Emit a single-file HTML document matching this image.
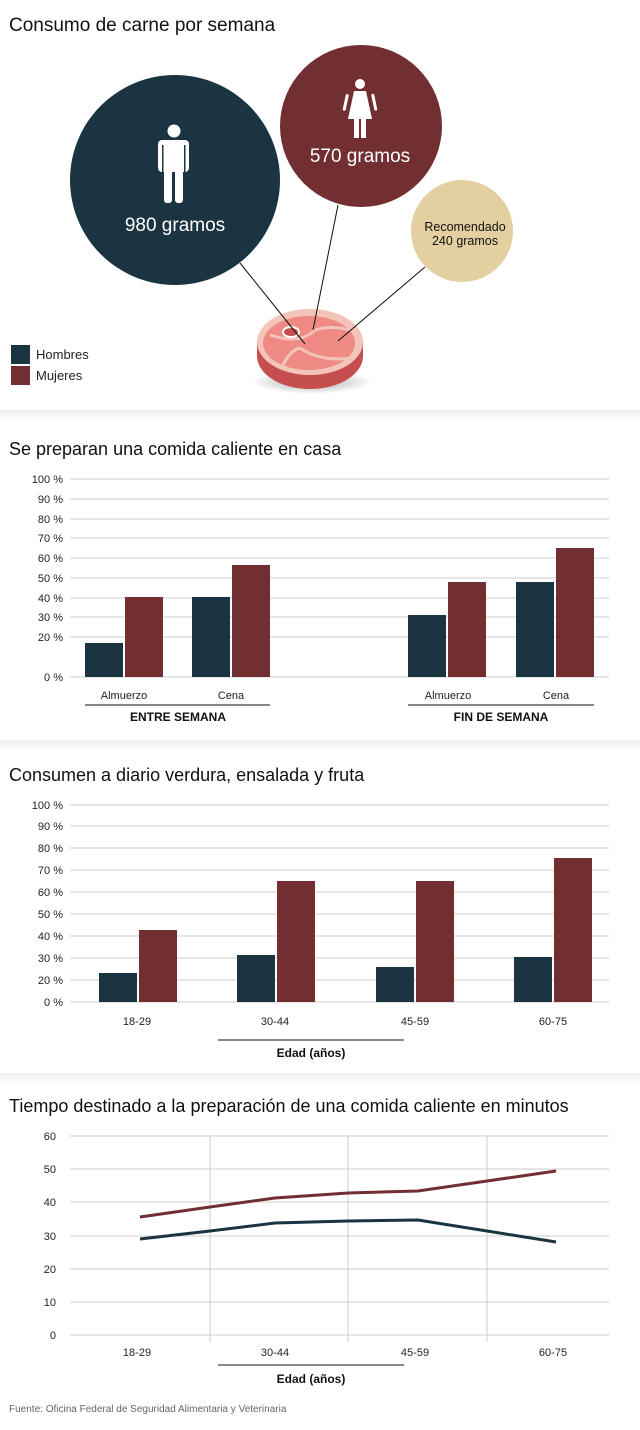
<!DOCTYPE html>
<html><head><meta charset="utf-8"><style>
body{margin:0;background:#fff;width:640px;height:1425px;overflow:hidden;font-family:"Liberation Sans",sans-serif}
</style></head><body>
<svg width="640" height="1425" xmlns="http://www.w3.org/2000/svg" font-family="Liberation Sans, sans-serif">
<defs>
<linearGradient id="sep" x1="0" y1="0" x2="0" y2="1"><stop offset="0" stop-color="#eeeeee"/><stop offset="1" stop-color="#ffffff"/></linearGradient>
<radialGradient id="sh"><stop offset="0" stop-color="#000" stop-opacity="0.35"/><stop offset="1" stop-color="#000" stop-opacity="0"/></radialGradient>
</defs>
<rect x="0" y="410" width="640" height="10" fill="url(#sep)"/>
<rect x="0" y="740" width="640" height="10" fill="url(#sep)"/>
<rect x="0" y="1073" width="640" height="10" fill="url(#sep)"/>

<text x="9" y="31" font-size="19" fill="#111">Consumo de carne por semana</text>
<circle cx="175" cy="180" r="105" fill="#1b3442"/>
<circle cx="361" cy="126" r="81" fill="#722f32"/>
<circle cx="462" cy="231" r="51" fill="#e4cfa0"/>
<g fill="#fff">
<circle cx="174" cy="131" r="6.5"/>
<rect x="158" y="140" width="31" height="32" rx="4"/>
<rect x="164" y="160" width="8" height="43" rx="3"/>
<rect x="175" y="160" width="8" height="43" rx="3"/>
</g>
<rect x="162" y="145" width="1.5" height="28" fill="#1b3442"/>
<rect x="184" y="145" width="1.5" height="28" fill="#1b3442"/>
<g fill="#fff">
<circle cx="360" cy="84" r="5"/>
<path d="M354 91 H366 L372 119 H348 Z"/>
<rect x="346" y="94" width="3" height="17" rx="1.5" transform="rotate(12 347 94)"/>
<rect x="371" y="94" width="3" height="17" rx="1.5" transform="rotate(-12 372 94)"/>
<rect x="354" y="118" width="5" height="20"/>
<rect x="361" y="118" width="5" height="20"/>
</g>
<text x="175" y="231" font-size="19" fill="#fff" text-anchor="middle">980 gramos</text>
<text x="360" y="162" font-size="19" fill="#fff" text-anchor="middle">570 gramos</text>
<text x="465" y="231" font-size="12.5" fill="#111" text-anchor="middle">Recomendado</text>
<text x="465" y="245" font-size="12.5" fill="#111" text-anchor="middle">240 gramos</text>
<ellipse cx="312" cy="382" rx="60" ry="12" fill="url(#sh)"/>
<ellipse cx="310" cy="356" rx="53" ry="33" fill="#c44f4e"/>
<rect x="257" y="340" width="106" height="16" fill="#c44f4e"/>
<ellipse cx="310" cy="342" rx="53" ry="33" fill="#f2c4ba"/>
<ellipse cx="309" cy="343" rx="46" ry="27" fill="#ef8a84"/>
<path d="M270 335 Q300 345 315 330 M300 348 Q320 362 352 358 M282 367 Q290 350 300 348 M315 330 Q330 325 350 330" stroke="#f2c4ba" stroke-width="3" fill="none"/>
<ellipse cx="291" cy="332" rx="8" ry="5" fill="#c44f4e" stroke="#fff" stroke-width="2"/>
<g stroke="#111" stroke-width="1">
<line x1="240" y1="263" x2="305" y2="344"/>
<line x1="338" y1="205" x2="313" y2="330"/>
<line x1="425" y1="267" x2="338" y2="341"/>
</g>
<rect x="11" y="345" width="19" height="19" fill="#1b3442"/>
<rect x="11" y="366" width="19" height="19" fill="#722f32"/>
<text x="36" y="359" font-size="13" fill="#222">Hombres</text>
<text x="36" y="380" font-size="13" fill="#222">Mujeres</text>

<text x="9" y="455" font-size="18" fill="#111">Se preparan una comida caliente en casa</text>
<g stroke="#ccc" stroke-width="1">
<line x1="70" x2="609" y1="479" y2="479"/><line x1="70" x2="609" y1="499" y2="499"/>
<line x1="70" x2="609" y1="519" y2="519"/><line x1="70" x2="609" y1="538" y2="538"/>
<line x1="70" x2="609" y1="558" y2="558"/><line x1="70" x2="609" y1="578" y2="578"/>
<line x1="70" x2="609" y1="598" y2="598"/><line x1="70" x2="609" y1="617" y2="617"/>
<line x1="70" x2="609" y1="637" y2="637"/><line x1="70" x2="609" y1="677" y2="677"/>
</g>
<g font-size="11" fill="#222" text-anchor="end">
<text x="63" y="483">100 %</text><text x="63" y="503">90 %</text><text x="63" y="523">80 %</text>
<text x="63" y="542">70 %</text><text x="63" y="562">60 %</text><text x="63" y="582">50 %</text>
<text x="63" y="602">40 %</text><text x="63" y="621">30 %</text><text x="63" y="641">20 %</text>
<text x="63" y="681">0 %</text>
</g>
<rect x="85" y="643" width="38" height="34" fill="#1b3442"/>
<rect x="125" y="597" width="38" height="80" fill="#722f32"/>
<rect x="192" y="597" width="38" height="80" fill="#1b3442"/>
<rect x="232" y="565" width="38" height="112" fill="#722f32"/>
<rect x="408" y="615" width="38" height="62" fill="#1b3442"/>
<rect x="448" y="582" width="38" height="95" fill="#722f32"/>
<rect x="516" y="582" width="38" height="95" fill="#1b3442"/>
<rect x="556" y="548" width="38" height="129" fill="#722f32"/>
<g font-size="11" fill="#222" text-anchor="middle">
<text x="124" y="699">Almuerzo</text><text x="231" y="699">Cena</text>
<text x="448" y="699">Almuerzo</text><text x="556" y="699">Cena</text>
</g>
<line x1="85" x2="270" y1="705" y2="705" stroke="#111"/>
<line x1="408" x2="594" y1="705" y2="705" stroke="#111"/>
<text x="178" y="721" font-size="12" font-weight="bold" fill="#111" text-anchor="middle">ENTRE SEMANA</text>
<text x="501" y="721" font-size="12" font-weight="bold" fill="#111" text-anchor="middle">FIN DE SEMANA</text>

<text x="9" y="781" font-size="18" fill="#111">Consumen a diario verdura, ensalada y fruta</text>
<g stroke="#ccc" stroke-width="1">
<line x1="70" x2="609" y1="805" y2="805"/><line x1="70" x2="609" y1="826" y2="826"/>
<line x1="70" x2="609" y1="848" y2="848"/><line x1="70" x2="609" y1="870" y2="870"/>
<line x1="70" x2="609" y1="892" y2="892"/><line x1="70" x2="609" y1="914" y2="914"/>
<line x1="70" x2="609" y1="936" y2="936"/><line x1="70" x2="609" y1="958" y2="958"/>
<line x1="70" x2="609" y1="980" y2="980"/><line x1="70" x2="609" y1="1002" y2="1002"/>
</g>
<g font-size="11" fill="#222" text-anchor="end">
<text x="63" y="809">100 %</text><text x="63" y="830">90 %</text><text x="63" y="852">80 %</text>
<text x="63" y="874">70 %</text><text x="63" y="896">60 %</text><text x="63" y="918">50 %</text>
<text x="63" y="940">40 %</text><text x="63" y="962">30 %</text><text x="63" y="984">20 %</text>
<text x="63" y="1006">0 %</text>
</g>
<rect x="99" y="973" width="38" height="29" fill="#1b3442"/>
<rect x="139" y="930" width="38" height="72" fill="#722f32"/>
<rect x="237" y="955" width="38" height="47" fill="#1b3442"/>
<rect x="277" y="881" width="38" height="121" fill="#722f32"/>
<rect x="376" y="967" width="38" height="35" fill="#1b3442"/>
<rect x="416" y="881" width="38" height="121" fill="#722f32"/>
<rect x="514" y="957" width="38" height="45" fill="#1b3442"/>
<rect x="554" y="858" width="38" height="144" fill="#722f32"/>
<g font-size="11" fill="#222" text-anchor="middle">
<text x="137" y="1025">18-29</text><text x="275" y="1025">30-44</text>
<text x="415" y="1025">45-59</text><text x="553" y="1025">60-75</text>
</g>
<line x1="218" x2="404" y1="1040" y2="1040" stroke="#111"/>
<text x="311" y="1057" font-size="12" font-weight="bold" fill="#111" text-anchor="middle">Edad (años)</text>

<text x="9" y="1112" font-size="18" fill="#111">Tiempo destinado a la preparación de una comida caliente en minutos</text>
<g stroke="#ccc" stroke-width="1">
<line x1="70" x2="609" y1="1136" y2="1136"/><line x1="70" x2="609" y1="1169" y2="1169"/>
<line x1="70" x2="609" y1="1202" y2="1202"/><line x1="70" x2="609" y1="1236" y2="1236"/>
<line x1="70" x2="609" y1="1269" y2="1269"/><line x1="70" x2="609" y1="1302" y2="1302"/>
<line x1="70" x2="609" y1="1335" y2="1335"/>
<line x1="210" x2="210" y1="1136" y2="1342"/><line x1="348" x2="348" y1="1136" y2="1342"/>
<line x1="487" x2="487" y1="1136" y2="1342"/>
</g>
<g font-size="11" fill="#222" text-anchor="end">
<text x="56" y="1140">60</text><text x="56" y="1173">50</text><text x="56" y="1206">40</text>
<text x="56" y="1240">30</text><text x="56" y="1273">20</text><text x="56" y="1306">10</text>
<text x="56" y="1339">0</text>
</g>
<polyline points="140,1217 210,1207 275,1198 348,1193 418,1191 487,1181 556,1171" fill="none" stroke="#722f32" stroke-width="3"/>
<polyline points="140,1239 210,1231 275,1223 348,1221 418,1220 487,1231 556,1242" fill="none" stroke="#1b3442" stroke-width="3"/>
<g font-size="11" fill="#222" text-anchor="middle">
<text x="137" y="1356">18-29</text><text x="275" y="1356">30-44</text>
<text x="415" y="1356">45-59</text><text x="553" y="1356">60-75</text>
</g>
<line x1="218" x2="404" y1="1365" y2="1365" stroke="#111"/>
<text x="311" y="1383" font-size="12" font-weight="bold" fill="#111" text-anchor="middle">Edad (años)</text>
<text x="9" y="1412" font-size="10" fill="#666">Fuente: Oficina Federal de Seguridad Alimentaria y Veterinaria</text>
</svg>
</body></html>
